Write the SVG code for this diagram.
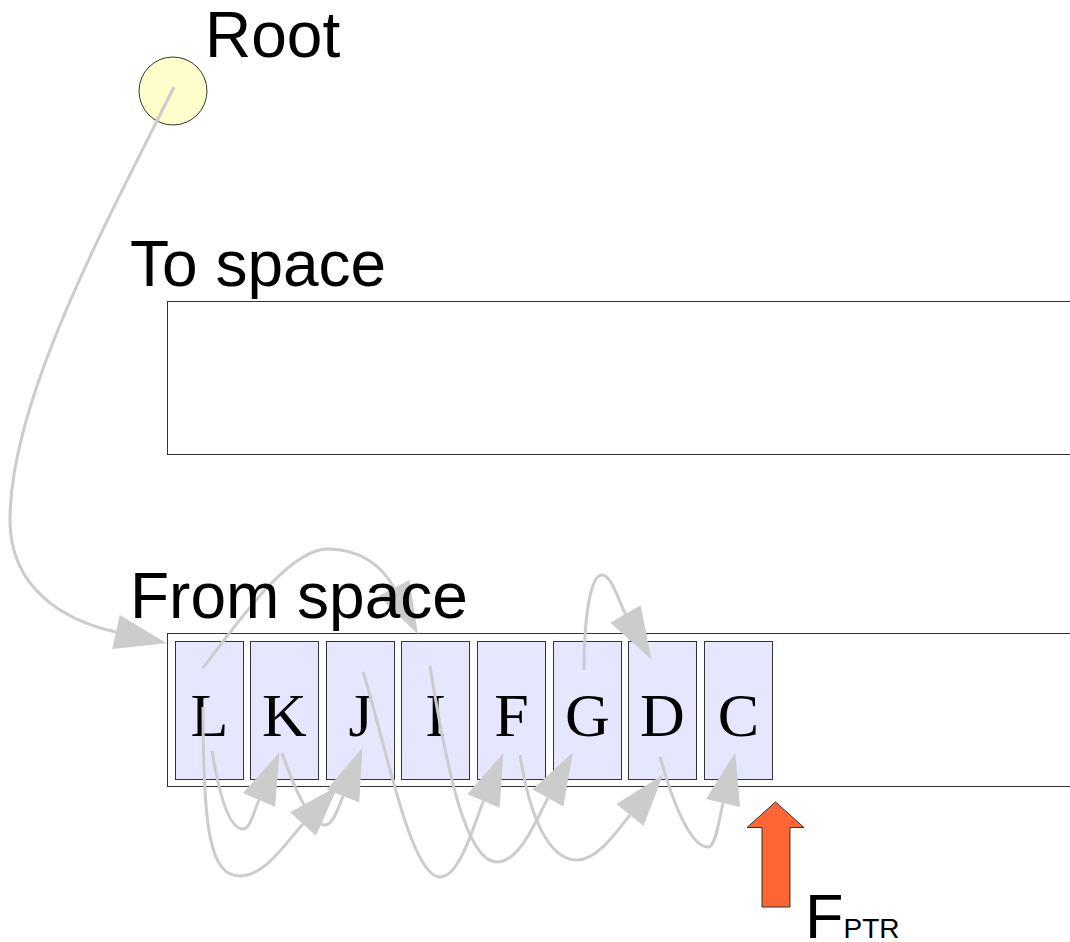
<svg xmlns="http://www.w3.org/2000/svg" width="1070" height="942" viewBox="0 0 1070 942">
<style>
.space{fill:#ffffff;stroke:#333333;stroke-width:1}
.cell rect{fill:#e6e6ff;stroke:#333333;stroke-width:1}
.cell text{font-family:"Liberation Serif","Times New Roman",serif;font-size:62px;fill:#000;text-anchor:middle}
.title{font-family:"Liberation Sans",Arial,sans-serif;font-size:64px;fill:#000}
.conn path{fill:none;stroke:#cccccc;stroke-width:3;marker-end:url(#ah)}
</style>
<defs>
<marker id="ah" markerUnits="userSpaceOnUse" markerWidth="54" markerHeight="37" refX="0" refY="17.5" orient="auto" overflow="visible">
<path d="M0,0 L52,17.5 L0,35 Z" fill="#cccccc"/>
</marker>
</defs>
<rect width="1070" height="942" fill="#ffffff"/>
<g id="to-space"><rect class="space" x="167.5" y="301.5" width="910" height="153"/></g>
<g id="from-space"><rect class="space" x="167.5" y="633.5" width="910" height="153"/></g>
<g id="root"><circle cx="173" cy="91" r="34" fill="#ffffcc" stroke="#333333" stroke-width="1"/></g>
<g id="cell-L" class="cell"><rect x="175.5" y="641.5" width="68" height="138"/><text x="209.5" y="736">L</text></g>
<g id="cell-K" class="cell"><rect x="250.5" y="641.5" width="68" height="138"/><text x="284.5" y="736">K</text></g>
<g id="cell-J" class="cell"><rect x="326.5" y="641.5" width="68" height="138"/><text x="360.5" y="736">J</text></g>
<g id="cell-I" class="cell"><rect x="401.5" y="641.5" width="68" height="138"/><text x="435.5" y="736">I</text></g>
<g id="cell-F" class="cell"><rect x="477.5" y="641.5" width="68" height="138"/><text x="511.5" y="736">F</text></g>
<g id="cell-G" class="cell"><rect x="553.5" y="641.5" width="68" height="138"/><text x="587.5" y="736">G</text></g>
<g id="cell-D" class="cell"><rect x="628.5" y="641.5" width="68" height="138"/><text x="662.5" y="736">D</text></g>
<g id="cell-C" class="cell"><rect x="704.5" y="641.5" width="68" height="138"/><text x="738.5" y="736">C</text></g>
<g id="connectors" class="conn">
<path d="M174,87 C105,225 10,400 10,520 C10,590 66,621 116,632"/>
<path d="M203,668 C243,615 290,549 328,549 C360,549 382.5,565.8 394,588"/>
<path d="M212,751 C220,800 230,829 243,829 C250,829 253,814 259,800"/>
<path d="M203,707 C203,830 210,876 240,876 C265,876 286,842.5 303,824"/>
<path d="M282,753 C295,790 310,825 325,825 C333,825 338.6,807 343,796"/>
<path d="M363,672 C385,740 410,877 440,877 C460,877 474,824 483.5,801"/>
<path d="M430,666 C445,760 465,862 497,862 C520,862 536,820 548,798"/>
<path d="M520,755 C530,820 550,860 577,860 C598,860 616,832 630,815"/>
<path d="M660,757 C672,800 690,847 708,847 C716,847 719.5,817.5 723,803"/>
<path d="M584,670 C584,620 590,575 602,575 C612,575 619.5,603.5 625.5,614"/>
</g>
<g id="fptr">
<polygon points="775.5,802 804,827.5 790,827.5 790,907 762,907 762,827.5 747,827.5" fill="#ff6633" stroke="#333333" stroke-width="1"/>
<text x="805" y="938" font-family="Liberation Sans, Arial, sans-serif" font-size="63" fill="#000">F<tspan font-size="28">PTR</tspan></text>
</g>
<g id="labels">
<text class="title" x="205" y="57">Root</text>
<text class="title" x="130" y="286">To space</text>
<text class="title" x="130" y="618">From space</text>
</g>
</svg>
